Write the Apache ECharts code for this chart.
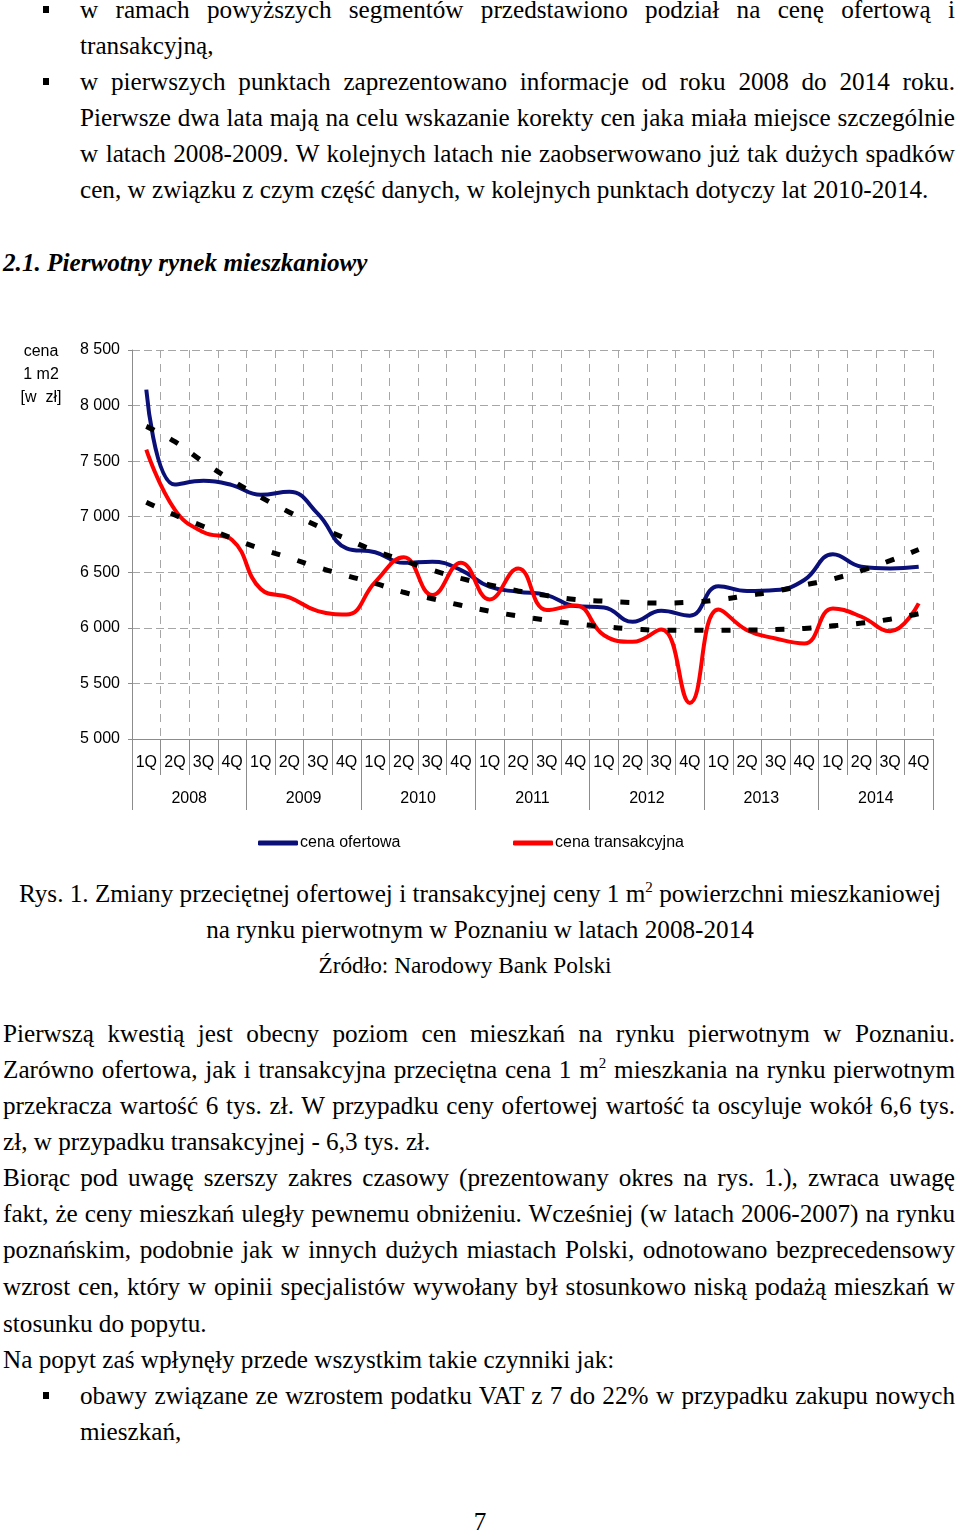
<!DOCTYPE html>
<html><head><meta charset="utf-8">
<script src="https://cdn.jsdelivr.net/npm/echarts@6.0.0/dist/echarts.min.js"></script>
<style>
html,body{margin:0;padding:0;background:#fff;}
#page{position:relative;width:960px;height:1533px;font-family:"Liberation Serif","Times New Roman",serif;font-size:25.2px;color:#000;overflow:hidden;}
.ln{position:absolute;line-height:36px;white-space:nowrap;}
.j{text-align:justify;text-align-last:justify;}
.c{text-align:center;left:0;width:960px;}
.b{position:absolute;left:43px;width:6px;height:7px;background:#000;}
sup{font-size:15px;line-height:0;vertical-align:10px;}
#chart{position:absolute;left:0;top:330px;width:960px;height:530px;}
</style></head><body>
<div id="page">
<div class="b" style="top:6px"></div>
<div class="ln j" style="left:80px;width:875px;top:-8px">w ramach powyższych segmentów przedstawiono podział na cenę ofertową i</div>
<div class="ln" style="left:80px;top:28px">transakcyjną,</div>
<div class="b" style="top:78px"></div>
<div class="ln j" style="left:80px;width:875px;top:64px">w pierwszych punktach zaprezentowano informacje od roku 2008 do 2014 roku.</div>
<div class="ln j" style="left:80px;width:875px;top:100px">Pierwsze dwa lata mają na celu wskazanie korekty cen jaka miała miejsce szczególnie</div>
<div class="ln j" style="left:80px;width:875px;top:136px">w latach 2008-2009. W kolejnych latach nie zaobserwowano już tak dużych spadków</div>
<div class="ln" style="left:80px;top:172px">cen, w związku z czym część danych, w kolejnych punktach dotyczy lat 2010-2014.</div>
<div class="ln" style="left:3px;top:245px;font-weight:bold;font-style:italic">2.1. Pierwotny rynek mieszkaniowy</div>

<div id="chart"></div>

<div class="ln c" style="top:876px">Rys. 1. Zmiany przeciętnej ofertowej i transakcyjnej ceny 1 m<sup>2</sup> powierzchni mieszkaniowej</div>
<div class="ln c" style="top:912px">na rynku pierwotnym w Poznaniu w latach 2008-2014</div>
<div class="ln c" style="top:947px;font-size:23.3px;left:-15px">Źródło: Narodowy Bank Polski</div>

<div class="ln j" style="left:3px;width:952px;top:1016px">Pierwszą kwestią jest obecny poziom cen mieszkań na rynku pierwotnym w Poznaniu.</div>
<div class="ln j" style="left:3px;width:952px;top:1052px">Zarówno ofertowa, jak i transakcyjna przeciętna cena 1 m<sup>2</sup> mieszkania na rynku pierwotnym</div>
<div class="ln j" style="left:3px;width:952px;top:1088px">przekracza wartość 6 tys. zł. W przypadku ceny ofertowej wartość ta oscyluje wokół 6,6 tys.</div>
<div class="ln" style="left:3px;top:1124px">zł, w przypadku transakcyjnej - 6,3 tys. zł.</div>
<div class="ln j" style="left:3px;width:952px;top:1160px">Biorąc pod uwagę szerszy zakres czasowy (prezentowany okres na rys. 1.), zwraca uwagę</div>
<div class="ln j" style="left:3px;width:952px;top:1196px">fakt, że ceny mieszkań uległy pewnemu obniżeniu. Wcześniej (w latach 2006-2007) na rynku</div>
<div class="ln j" style="left:3px;width:952px;top:1232px">poznańskim, podobnie jak w innych dużych miastach Polski, odnotowano bezprecedensowy</div>
<div class="ln j" style="left:3px;width:952px;top:1269px">wzrost cen, który w opinii specjalistów wywołany był stosunkowo niską podażą mieszkań w</div>
<div class="ln" style="left:3px;top:1306px">stosunku do popytu.</div>
<div class="ln" style="left:3px;top:1342px">Na popyt zaś wpłynęły przede wszystkim takie czynniki jak:</div>
<div class="b" style="top:1392px"></div>
<div class="ln j" style="left:80px;width:875px;top:1378px">obawy związane ze wzrostem podatku VAT z 7 do 22% w przypadku zakupu nowych</div>
<div class="ln" style="left:80px;top:1414px">mieszkań,</div>
<div class="ln c" style="top:1504px">7</div>
</div>
<script>
const quarterLabels = ['1Q','2Q','3Q','4Q','1Q','2Q','3Q','4Q','1Q','2Q','3Q','4Q','1Q','2Q','3Q','4Q',
  '1Q','2Q','3Q','4Q','1Q','2Q','3Q','4Q','1Q','2Q','3Q','4Q'];
const yearLabels = ['2008','2009','2010','2011','2012','2013','2014'];
const offerPrice = [8144,7290,7323,7284,7197,7224,7026,6716,6680,6585,6595,6520,6370,6325,
  6295,6196,6184,6054,6153,6110,6375,6331,6340,6430,6662,6550,6535,6550];
const transactionPrice = [7603,7062,6860,6791,6350,6275,6150,6120,6412,6635,6295,6586,6256,6535,
  6160,6202,5934,5874,5985,5325,6165,5979,5904,5859,6175,6100,5970,6220];
const offerTrend = [7813,7675,7492,7326,7176,7041,6915,6800,6692,6605,6520,6445,6387,6333,
  6290,6255,6240,6228,6224,6230,6253,6290,6330,6385,6440,6515,6605,6705];
const transactionTrend = [7130,7015,6912,6806,6712,6630,6545,6470,6400,6320,6262,6203,6150,6107,
  6070,6036,6011,5991,5979,5978,5978,5980,5985,5995,6018,6043,6078,6128];
const yTicks = {min:5000, max:8500, step:500};

const chart = echarts.init(document.getElementById('chart'), null, {renderer:'canvas'});
const sans = 'Liberation Sans';
const gridGray = '#a6a6a6';
const axisGray = '#8c8c8c';
chart.setOption({
  animation:false,
  grid:{left:132, top:20, width:801, height:389, containLabel:false},
  graphic:[{type:'text', x:41, y:10, style:{text:'cena\n1 m2\n[w  zł]', fill:'#000',
    font:'16px "Liberation Sans"', lineHeight:23, textAlign:'center', textVerticalAlign:'top'}}],
  legend:[
    {data:['cena ofertowa'], left:258, top:505, itemWidth:40, itemHeight:5, icon:'roundRect',
      itemGap:0, padding:0, textStyle:{fontFamily:sans, fontSize:16, color:'#000', padding:[0,0,0,-3]}},
    {data:['cena transakcyjna'], left:513, top:505, itemWidth:40, itemHeight:5, icon:'roundRect',
      itemGap:0, padding:0, textStyle:{fontFamily:sans, fontSize:16, color:'#000', padding:[0,0,0,-3]}}
  ],
  xAxis:[
    {type:'category', data:quarterLabels, boundaryGap:true, position:'bottom',
      axisLine:{show:true, lineStyle:{color:axisGray, width:1}},
      axisTick:{show:true, interval:0, length:36, lineStyle:{color:axisGray}},
      axisLabel:{interval:0, margin:16, fontFamily:sans, fontSize:16, color:'#000'},
      splitLine:{show:true, interval:0, lineStyle:{color:gridGray, type:[8,6], width:1}}},
    {type:'category', data:yearLabels, boundaryGap:true, position:'bottom',
      axisLine:{show:false},
      axisTick:{show:true, interval:0, length:71, lineStyle:{color:axisGray}},
      axisLabel:{interval:0, margin:52, fontFamily:sans, fontSize:16, color:'#000'},
      splitLine:{show:false}}
  ],
  yAxis:{type:'value', min:yTicks.min, max:yTicks.max, interval:yTicks.step,
    axisLine:{show:true, lineStyle:{color:axisGray}},
    axisTick:{show:true, length:4, lineStyle:{color:axisGray}},
    axisLabel:{margin:12, fontFamily:sans, fontSize:16, color:'#000',
      formatter:v=>String(v).replace(/\B(?=(\d{3})+(?!\d))/g,' ')},
    splitLine:{show:true, lineStyle:{color:gridGray, type:[8,4], width:1}}},
  series:[
    {name:'cena ofertowa', type:'line', data:offerPrice, smooth:0.45, showSymbol:false, symbol:'none',
      itemStyle:{color:'#0b1078'}, lineStyle:{color:'#0b1078', width:4}, z:3},
    {name:'cena transakcyjna', type:'line', data:transactionPrice, smooth:0.45, showSymbol:false, symbol:'none',
      itemStyle:{color:'#ff0000'}, lineStyle:{color:'#ff0000', width:4}, z:4},
    {name:'trend ofertowa', type:'line', data:offerTrend, smooth:true, showSymbol:false, symbol:'none',
      lineStyle:{color:'#000', width:5, type:[9,18], cap:'butt'}, z:5},
    {name:'trend transakcyjna', type:'line', data:transactionTrend, smooth:true, showSymbol:false, symbol:'none',
      lineStyle:{color:'#000', width:5, type:[9,18], cap:'butt'}, z:5}
  ]
});
</script>
</body></html>
